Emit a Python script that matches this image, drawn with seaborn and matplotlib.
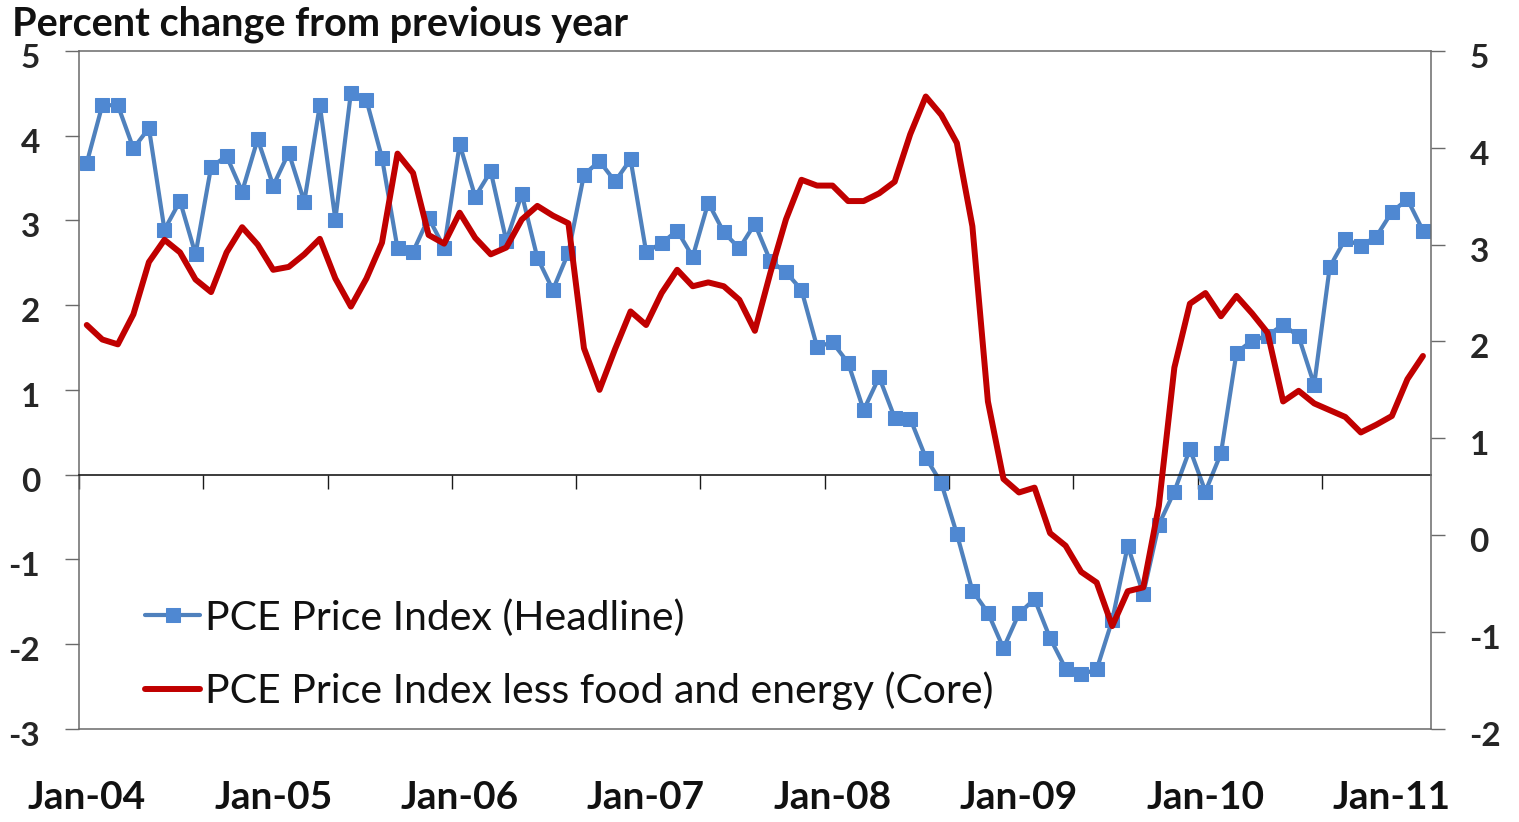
import matplotlib
matplotlib.use("Agg")
import matplotlib.pyplot as plt
import matplotlib.transforms as mtransforms
import numpy as np
import seaborn as sns

# Monthly PCE inflation, Jan-2004 .. Mar-2011 (percent change from previous year)
months = np.arange(87)
headline = [
    3.68, 4.36, 4.36, 3.85, 4.09, 2.89, 3.23, 2.60, 3.63, 3.76, 3.34, 3.96,
    3.41, 3.80, 3.22, 4.36, 3.01, 4.51, 4.42, 3.74, 2.67, 2.63, 3.03, 2.68,
    3.90, 3.28, 3.58, 2.76, 3.31, 2.56, 2.18, 2.62, 3.54, 3.70, 3.46, 3.72,
    2.63, 2.73, 2.88, 2.57, 3.21, 2.86, 2.67, 2.96, 2.52, 2.39, 2.18, 1.51,
    1.56, 1.32, 0.76, 1.15, 0.67, 0.66, 0.20, -0.10, -0.70, -1.37, -1.63, -2.05,
    -1.64, -1.47, -1.93, -2.29, -2.36, -2.30, -1.72, -0.84, -1.41, -0.59, -0.20, 0.30,
    -0.20, 0.25, 1.44, 1.58, 1.64, 1.77, 1.63, 1.06, 2.45, 2.78, 2.70, 2.81,
    3.10, 3.25, 2.88,
]
core = [
    2.17, 2.02, 1.97, 2.28, 2.82, 3.05, 2.92, 2.64, 2.51, 2.92, 3.18, 3.00,
    2.74, 2.77, 2.90, 3.06, 2.65, 2.36, 2.65, 3.02, 3.94, 3.74, 3.10, 3.01,
    3.33, 3.07, 2.90, 2.97, 3.26, 3.40, 3.30, 3.22, 1.93, 1.50, 1.92, 2.31,
    2.17, 2.50, 2.74, 2.57, 2.61, 2.57, 2.43, 2.11, 2.71, 3.26, 3.67, 3.61,
    3.61, 3.45, 3.45, 3.53, 3.65, 4.14, 4.53, 4.34, 4.05, 3.19, 1.38, 0.58,
    0.44, 0.49, 0.02, -0.11, -0.38, -0.49, -0.94, -0.58, -0.54, 0.30, 1.73, 2.39,
    2.50, 2.26, 2.47, 2.29, 2.09, 1.38, 1.49, 1.36, 1.29, 1.22, 1.06, 1.14,
    1.23, 1.61, 1.85,
]
year_labels = ["Jan-04", "Jan-05", "Jan-06", "Jan-07", "Jan-08", "Jan-09", "Jan-10", "Jan-11"]
left_ticks = [-3, -2, -1, 0, 1, 2, 3, 4, 5]
right_ticks = [-2, -1, 0, 1, 2, 3, 4, 5]

BLUE = "#4F81BD"
MARKER = "#4F88D2"
RED = "#C00000"
FRAME = "#6a6a6a"

sns.set_theme(style="white")
plt.rcParams["font.family"] = ["Lato", "DejaVu Sans"]

fig = plt.figure(figsize=(15.19, 8.22), dpi=100)
ax = fig.add_axes([0.05201, 0.1135, 0.88987, 0.82445])
ax2 = ax.twinx()

sns.lineplot(x=months, y=headline, ax=ax, color=BLUE, linewidth=3.0,
             marker="s", markersize=10.5, markerfacecolor=MARKER,
             markeredgecolor=MARKER, label="PCE Price Index (Headline)",
             legend=False)
sns.lineplot(x=months, y=core, ax=ax2, color=RED, linewidth=4.3,
             label="PCE Price Index less food and energy (Core)", legend=False)

ax.set_xlim(-0.5, 86.5)
ax.set_ylim(-3, 5)
ax2.set_ylim(-2, 5)
ax.set_yticks(left_ticks)
ax2.set_yticks(right_ticks)
ax.set_yticklabels([str(t) for t in left_ticks], fontweight="bold")
ax2.set_yticklabels([str(t) for t in right_ticks], fontweight="bold")
ax.set_xlabel("")
ax.set_ylabel("")
ax2.set_ylabel("")

# category axis sits on the zero line, ticks every 8 months between categories
ax.spines["bottom"].set_position(("data", 0))
ax.spines["bottom"].set_color("#1a1a1a")
ax.spines["bottom"].set_linewidth(1.2)
ax.set_xticks(np.arange(-0.5, 86.5, 8))
ax.set_xticklabels([])
ax.tick_params(axis="x", direction="out", length=10, width=1.0, color="#1a1a1a", bottom=True)
ax.tick_params(axis="y", direction="out", length=10, width=1.0, color=FRAME,
               pad=18, labelsize=24, left=True)
ax2.tick_params(axis="y", direction="out", length=10, width=1.0, color=FRAME,
                pad=18, labelsize=24, right=True)
for name in ["left", "top", "right"]:
    ax.spines[name].set_visible(name == "left")
    ax.spines[name].set_color(FRAME)
    ax.spines[name].set_linewidth(1.1)
for name in ["left", "top", "right", "bottom"]:
    ax2.spines[name].set_visible(name != "left")
    ax2.spines[name].set_color(FRAME)
    ax2.spines[name].set_linewidth(1.1)
ax.grid(False)
ax2.grid(False)

# value labels sit a little below their ticks, as in the original
shift = mtransforms.ScaledTranslation(0, -0.05, fig.dpi_scale_trans)
for lab in ax.get_yticklabels() + ax2.get_yticklabels():
    lab.set_transform(lab.get_transform() + shift)

# year labels below the plot area
trans = mtransforms.blended_transform_factory(ax.transData, ax.transAxes)
for k, lab in enumerate(year_labels):
    ax.text(months[k * 12], -0.1008, lab, transform=trans, ha="center", va="center",
            fontsize=28, fontweight="bold", color="#111111")

fig.text(0.0079, 0.970, "Percent change from previous year", ha="left", va="center",
         fontsize=28.5, fontweight="bold", color="#111111")

h1, l1 = ax.get_legend_handles_labels()
h2, l2 = ax2.get_legend_handles_labels()
leg = ax2.legend(h1 + h2, l1 + l2, loc="center left",
                 bbox_to_anchor=(0.0955, 0.2038), bbox_transform=fig.transFigure,
                 frameon=False, fontsize=29.5, handlelength=1.34, handletextpad=0.12,
                 labelspacing=0.85, borderpad=0, borderaxespad=0, numpoints=1)
for t in leg.get_texts():
    t.set_color("#111111")

fig.savefig("out.png", dpi=100)
plt.close(fig)
